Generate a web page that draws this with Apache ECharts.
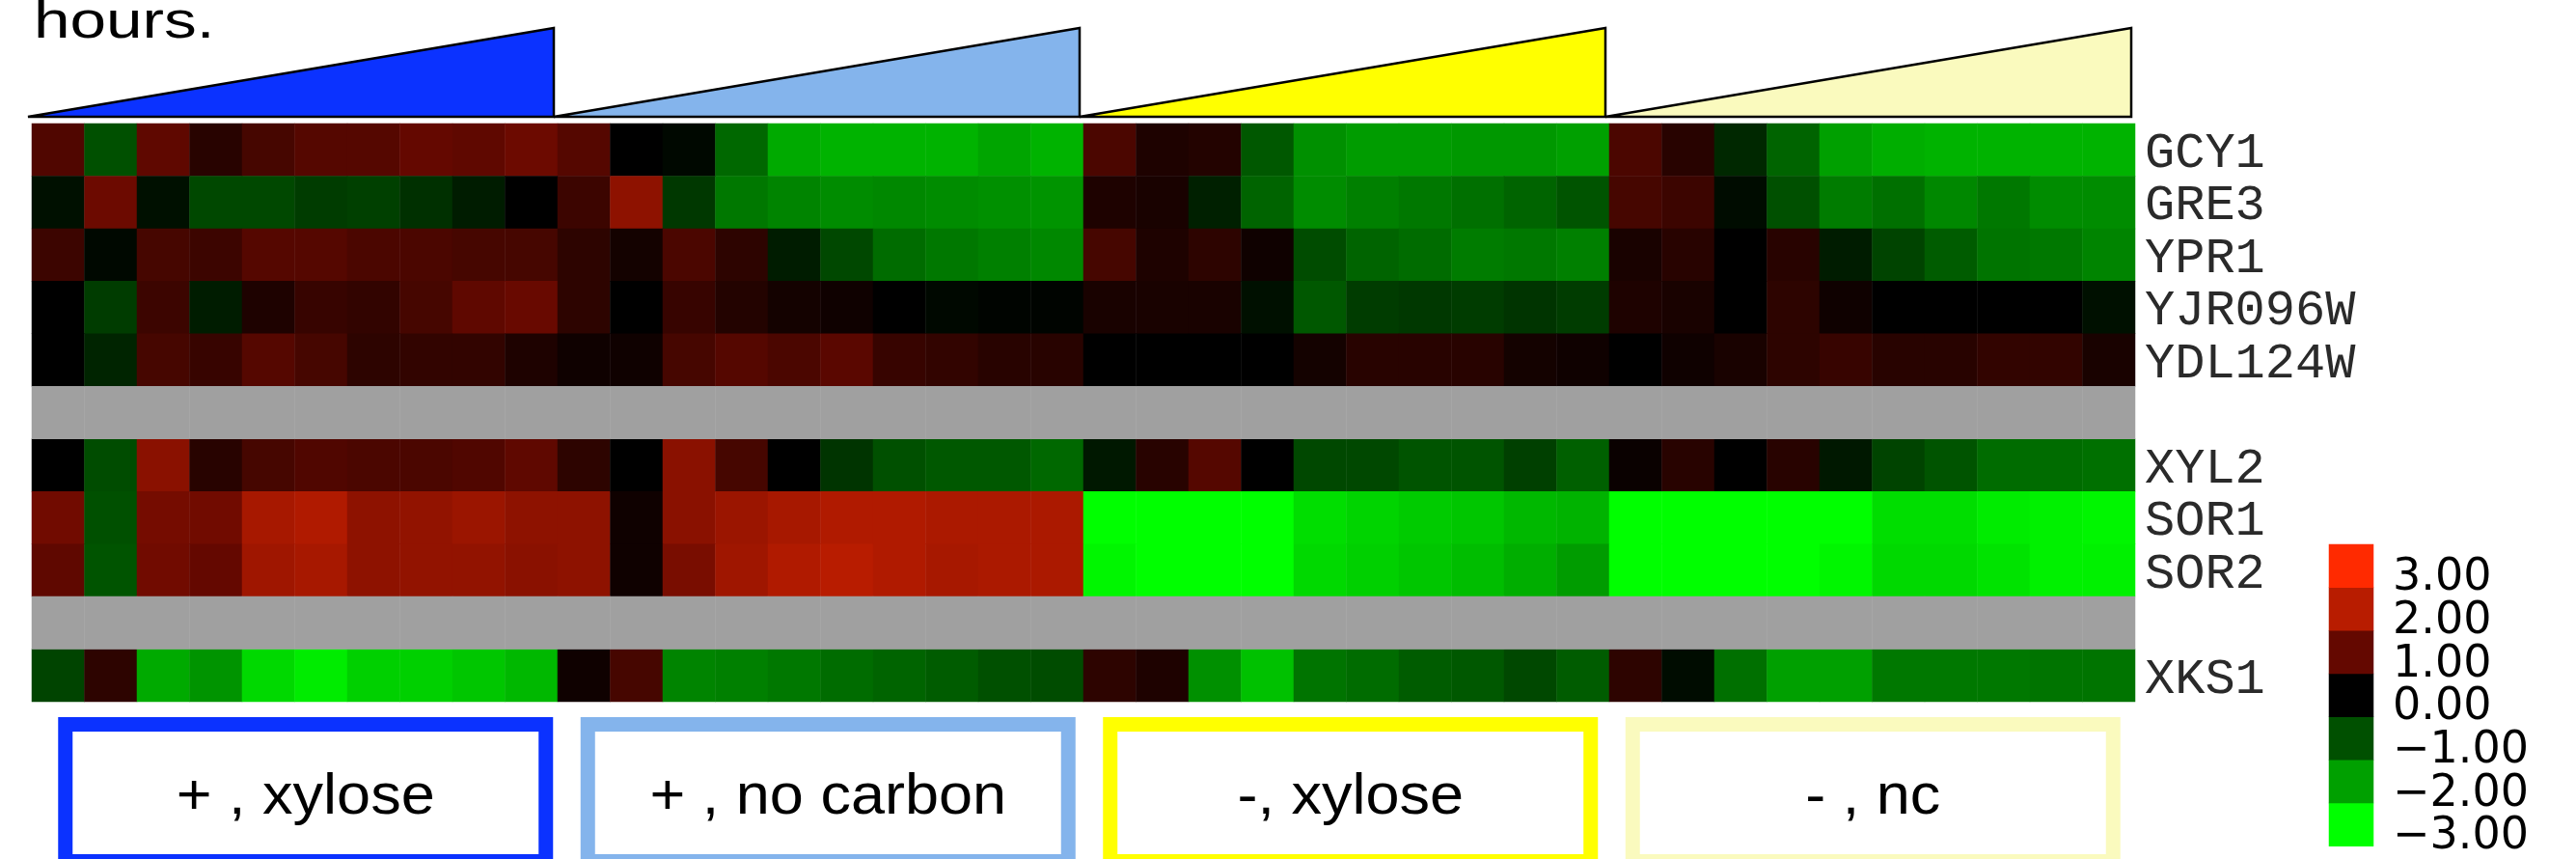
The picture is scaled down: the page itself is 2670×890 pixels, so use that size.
<!DOCTYPE html>
<html><head><meta charset="utf-8">
<script src="https://cdn.jsdelivr.net/npm/echarts@6/dist/echarts.min.js"></script>
<style>html,body{margin:0;padding:0;background:#fff}#c{width:2670px;height:890px}</style>
</head><body><div id="c"></div>
<script>
// ---- data ----
const conditions = ['+ , xylose', '+ , no carbon', '-, xylose', '- , nc'];
const timePoints = ['t1','t2','t3','t4','t5','t6','t7','t8','t9','t10'];
const genes = ['GCY1','GRE3','YPR1','YJR096W','YDL124W','','XYL2','SOR1','SOR2','','XKS1'];
const separatorRows = [5, 9];
const scaleTicks = [-3, -2, -1, 0, 1, 2, 3];
const GCY1 = [0.8,-1.0,0.95,0.4,0.7,0.85,0.85,1.0,0.95,1.1, 0.85,0.0,-0.1,-1.3,-2.1,-2.2,-2.2,-2.2,-2.05,-2.2,
  0.75,0.3,0.35,-1.1,-1.8,-1.95,-1.95,-1.9,-1.9,-2.0, 0.75,0.4,-0.5,-1.25,-2.0,-2.15,-2.2,-2.2,-2.2,-2.2];
const GRE3 = [-0.2,1.1,-0.2,-0.9,-0.9,-0.75,-0.8,-0.6,-0.35,0.0, 0.6,1.5,-0.7,-1.5,-1.65,-1.75,-1.7,-1.75,-1.8,-1.85,
  0.3,0.25,-0.4,-1.25,-1.75,-1.6,-1.5,-1.4,-1.25,-1.05, 0.7,0.6,-0.15,-1.0,-1.55,-1.4,-1.7,-1.5,-1.75,-1.75];
const YPR1 = [0.6,-0.1,0.7,0.6,0.85,0.85,0.75,0.75,0.7,0.7, 0.45,0.2,0.75,0.45,-0.35,-0.9,-1.35,-1.5,-1.6,-1.7,
  0.7,0.3,0.45,0.15,-0.95,-1.25,-1.35,-1.55,-1.5,-1.6, 0.25,0.4,0.0,0.4,-0.35,-0.85,-1.15,-1.45,-1.5,-1.65];
const YJR096W = [0.0,-0.75,0.6,-0.35,0.3,0.55,0.5,0.7,0.95,1.05, 0.45,0.0,0.55,0.35,0.2,0.15,0.0,-0.1,-0.05,-0.05,
  0.25,0.25,0.25,-0.2,-1.1,-0.75,-0.7,-0.75,-0.65,-0.75, 0.3,0.25,0.0,0.45,0.15,0.0,0.0,0.0,0.0,-0.2];
const YDL124W = [0.0,-0.45,0.7,0.55,0.85,0.7,0.45,0.5,0.5,0.3, 0.15,0.15,0.7,0.85,0.75,0.9,0.55,0.5,0.4,0.4,
  0.0,0.0,0.0,0.0,0.2,0.4,0.4,0.4,0.2,0.15, 0.0,0.15,0.25,0.45,0.55,0.4,0.4,0.5,0.5,0.25];
const XYL2 = [0.0,-0.95,1.45,0.4,0.7,0.8,0.75,0.75,0.8,0.95, 0.45,0.0,1.45,0.7,0.0,-0.65,-1.0,-1.1,-1.1,-1.3,
  -0.3,0.4,0.85,0.0,-0.9,-0.9,-1.05,-1.05,-0.8,-1.2, 0.1,0.4,0.0,0.4,-0.3,-0.85,-1.05,-1.35,-1.35,-1.4];
const SOR1 = [1.15,-1.0,1.2,1.15,1.8,1.9,1.5,1.55,1.65,1.5, 1.5,0.15,1.45,1.65,1.8,1.9,1.9,1.85,1.85,1.85,
  -3.0,-3.0,-3.0,-3.0,-2.65,-2.55,-2.45,-2.4,-2.25,-2.2, -3.0,-3.0,-3.0,-3.0,-3.0,-2.65,-2.65,-2.8,-2.85,-2.9];
const SOR2 = [0.95,-1.05,1.15,1.0,1.7,1.8,1.5,1.55,1.55,1.45, 1.5,0.15,1.25,1.7,1.9,2.0,1.9,1.8,1.85,1.85,
  -2.9,-3.0,-3.0,-3.0,-2.6,-2.5,-2.4,-2.3,-2.15,-1.95, -3.0,-3.0,-3.0,-3.0,-2.9,-2.6,-2.6,-2.7,-2.85,-2.85];
const XKS1 = [-0.85,0.45,-2.1,-1.85,-2.6,-2.8,-2.5,-2.5,-2.4,-2.25, 0.15,0.7,-1.65,-1.6,-1.5,-1.35,-1.25,-1.15,-1.0,-0.95,
  0.45,0.3,-1.8,-2.35,-1.45,-1.35,-1.15,-1.1,-0.9,-1.15, 0.45,-0.15,-1.4,-2.0,-2.0,-1.5,-1.5,-1.5,-1.45,-1.45];
const geneValues = {GCY1, GRE3, YPR1, YJR096W, YDL124W, XYL2, SOR1, SOR2, XKS1};

// ---- build ----
const columns = [];
conditions.forEach((c, ci) => timePoints.forEach(t => columns.push(ci + '_' + t)));
const rowNames = genes.map((g, i) => g === '' ? ' '.repeat(i) : g);
const cells = [];
genes.forEach((g, r) => {
  if (!geneValues[g]) return;
  geneValues[g].forEach((v, c) => cells.push([c, r, v]));
});
const sepCells = [];
separatorRows.forEach(r => columns.forEach((_, c) => sepCells.push([c, r, 0])));
const tickLabels = scaleTicks.map(v => (v < 0 ? '\u2212' : '') + Math.abs(v).toFixed(2));
const legendCells = scaleTicks.map((v, i) => [0, i, v]);
const groups = conditions.map((c, i) => [i * timePoints.length, (i + 1) * timePoints.length, i]);
const groupColors = ['#0b32ff', '#84b4ec', '#ffff00', '#fafabe'];

const chart = echarts.init(document.getElementById('c'), null, {renderer: 'canvas'});
const hidden = {show: false};
chart.setOption({
  animation: false,
  backgroundColor: '#fff',
  grid: [
    {left: 33, top: 128, width: 2180, height: 599},
    {left: 2414, top: 564, width: 46, height: 318},
    {left: 29, top: 29, width: 2180, height: 92},
    {left: 46, top: 743, width: 2166, height: 147}
  ],
  xAxis: [
    {type: 'category', gridIndex: 0, data: columns, axisLine: hidden, axisTick: hidden, axisLabel: hidden, splitLine: hidden},
    {type: 'category', gridIndex: 1, data: [''], axisLine: hidden, axisTick: hidden, axisLabel: hidden},
    {type: 'value', gridIndex: 2, min: 0, max: 40, show: false},
    {type: 'value', gridIndex: 3, min: 0, max: 40, show: false}
  ],
  yAxis: [
    {type: 'category', gridIndex: 0, data: rowNames, inverse: true, position: 'right',
     axisLine: hidden, axisTick: hidden, splitLine: hidden,
     axisLabel: {interval: 0, margin: 10, fontFamily: 'Liberation Mono', fontSize: 52, color: '#2a2a2a',
                 verticalAlign: 'top', lineHeight: 8}},
    {type: 'category', gridIndex: 1, data: tickLabels, position: 'right',
     axisLine: hidden, axisTick: hidden,
     axisLabel: {interval: 0, hideOverlap: false, margin: 20, fontFamily: 'DejaVu Sans', fontSize: 46, color: '#000',
                 verticalAlign: 'top', lineHeight: 26}},
    {type: 'value', gridIndex: 2, min: 0, max: 1, show: false},
    {type: 'value', gridIndex: 3, min: 0, max: 1, show: false}
  ],
  visualMap: {
    type: 'continuous', show: false, min: -3, max: 3, seriesIndex: [0, 2],
    inRange: {color: ['#00ff00', '#00a000', '#005000', '#000000', '#640800', '#b81c00', '#ff2a00']}
  },
  graphic: [{
    type: 'text', x: 35, y: 24, scaleX: 1.25,
    style: {text: 'hours.', font: '54px "Liberation Sans"', fill: '#000', verticalAlign: 'middle'}
  }],
  series: [
    {type: 'heatmap', xAxisIndex: 0, yAxisIndex: 0, data: cells, emphasis: {disabled: true}},
    {type: 'heatmap', xAxisIndex: 0, yAxisIndex: 0, data: sepCells, itemStyle: {color: '#a0a0a0'}, emphasis: {disabled: true}},
    {type: 'heatmap', xAxisIndex: 1, yAxisIndex: 1, data: legendCells, emphasis: {disabled: true}},
    {type: 'custom', xAxisIndex: 2, yAxisIndex: 2, data: groups, silent: true,
     renderItem: (params, api) => {
       const s = api.value(0), e = api.value(1), i = api.value(2);
       const p0 = api.coord([s, 0]), p1 = api.coord([e, 1]), p2 = api.coord([e, 0]);
       return {type: 'polygon', shape: {points: [p0, p1, p2]},
               style: {fill: groupColors[i], stroke: '#000', lineWidth: 2.5, lineJoin: 'miter'}};
     }},
    {type: 'custom', xAxisIndex: 3, yAxisIndex: 3, data: groups, silent: true,
     renderItem: (params, api) => {
       const s = api.value(0), e = api.value(1), i = api.value(2);
       const c = api.coord([(s + e) / 2, 1]);
       return {type: 'group', children: [
         {type: 'rect', shape: {x: c[0] - 249, y: c[1] + 7.5, width: 498, height: 142},
          style: {fill: '#fff', stroke: groupColors[i], lineWidth: 15}},
         {type: 'text', x: c[0], y: c[1] + 83, scaleX: 1.05,
          style: {text: conditions[i], font: '60px "Liberation Sans"', fill: '#000', align: 'center', verticalAlign: 'middle'}}
       ]};
     }}
  ]
});
</script></body></html>
